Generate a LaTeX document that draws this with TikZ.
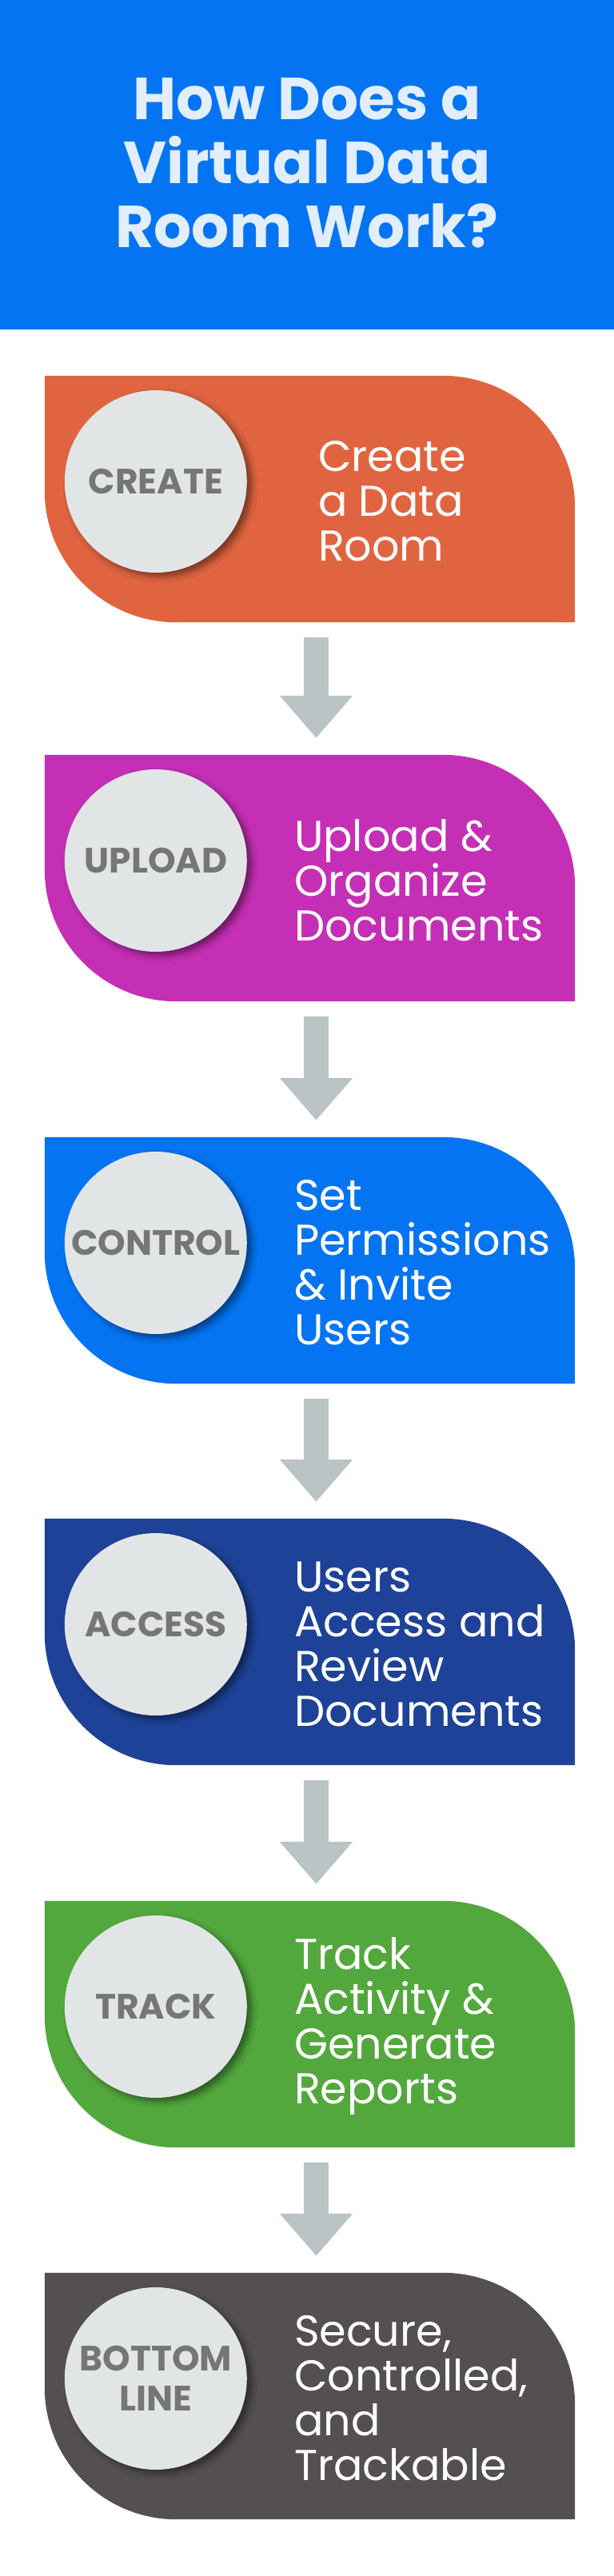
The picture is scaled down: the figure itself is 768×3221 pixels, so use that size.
\documentclass[tikz,border=0pt]{standalone}
\usepackage{fontspec}
\setmainfont{Poppins}
\usepackage{tikz}
\usetikzlibrary{positioning,calc}
\usetikzlibrary{arrows.meta,shadows.blur}
\definecolor{HeadBlue}{RGB}{4,116,242}
\definecolor{TitleInk}{RGB}{226,238,252}
\definecolor{CreateOrange}{RGB}{224,100,63}
\definecolor{UploadPink}{RGB}{196,47,181}
\definecolor{ControlBlue}{RGB}{4,116,242}
\definecolor{AccessNavy}{RGB}{30,66,151}
\definecolor{TrackGreen}{RGB}{83,168,61}
\definecolor{BottomGray}{RGB}{84,80,82}
\definecolor{ArrowGray}{RGB}{186,196,196}
\definecolor{BadgeGray}{RGB}{226,229,230}
\definecolor{LabelGray}{RGB}{118,118,118}
\tikzset{
	stepbox/.style={rectangle,minimum width=663pt,minimum height=308pt,inner sep=0pt},
	badge/.style={circle,fill=BadgeGray,minimum size=228pt,inner sep=0pt,align=center,
		text=LabelGray,font=\fontsize{44}{50}\selectfont\bfseries,
		blur shadow={shadow xshift=6pt,shadow yshift=-5pt,shadow blur radius=7pt,shadow opacity=45}},
	steptext/.style={anchor=west,inner sep=0pt,text=white,align=left,font=\fontsize{54}{56}\selectfont},
	flow/.style={draw=ArrowGray,line width=31pt,-{Triangle[length=53pt,width=88pt]},
		shorten <=19pt,shorten >=21pt},
	title/.style={anchor=north,inner sep=0pt,text=TitleInk,align=center,font=\fontsize{74}{80}\selectfont\bfseries},
}
\newcommand{\leafbox}[2]{%
	\fill[#2] (#1.north west) -- ($(#1.north east)+(-165,0)$)
		arc[start angle=90,end angle=0,radius=165pt] -- (#1.south east)
		-- ($(#1.south west)+(165,0)$) arc[start angle=270,end angle=180,radius=165pt] -- cycle;}
\begin{document}
\begin{tikzpicture}[x=1pt,y=1pt]
	\useasboundingbox (0,0) rectangle (768,-3221);
	\fill[HeadBlue] (0,0) rectangle (768,-412);
	\node[title] (ttl) at (384,-97) {How Does a\\Virtual Data\\Room Work?};

	\node[stepbox] (s1) at (387.5,-624) {};
	\node[stepbox] (s2) at (387.5,-1098) {};
	\node[stepbox] (s3) at (387.5,-1576) {};
	\node[stepbox] (s4) at (387.5,-2053) {};
	\node[stepbox] (s5) at (387.5,-2531) {};
	\node[stepbox] (s6) at (387.5,-2996) {};

	\leafbox{s1}{CreateOrange}
	\leafbox{s2}{UploadPink}
	\leafbox{s3}{ControlBlue}
	\leafbox{s4}{AccessNavy}
	\leafbox{s5}{TrackGreen}
	\leafbox{s6}{BottomGray}

	\node[badge] (c1) at ($(s1.west)+(139,22)$) {CREATE};
	\node[badge] (c2) at ($(s2.west)+(139,22)$) {UPLOAD};
	\node[badge] (c3) at ($(s3.west)+(139,22)$) {CONTROL};
	\node[badge] (c4) at ($(s4.west)+(139,22)$) {ACCESS};
	\node[badge] (c5) at ($(s5.west)+(139,22)$) {TRACK};
	\node[badge] (c6) at ($(s6.west)+(139,22)$) {BOTTOM\\LINE};

	\node[steptext] (t1) at ($(s1.west)+(342,-3)$) {Create\\a Data\\Room};
	\node[steptext] (t2) at ($(s2.west)+(312,-3)$) {Upload \&\\Organize\\Documents};
	\node[steptext] (t3) at ($(s3.west)+(312,-3)$) {Set\\Permissions\\\& Invite\\Users};
	\node[steptext] (t4) at ($(s4.west)+(312,-3)$) {Users\\Access and\\Review\\Documents};
	\node[steptext] (t5) at ($(s5.west)+(312,-3)$) {Track\\Activity \&\\Generate\\Reports};
	\node[steptext] (t6) at ($(s6.west)+(312,-3)$) {Secure,\\Controlled,\\and\\Trackable};

	\draw[flow] ([xshift=8pt]s1.south) -- ([xshift=8pt]s2.north);
	\draw[flow] ([xshift=8pt]s2.south) -- ([xshift=8pt]s3.north);
	\draw[flow] ([xshift=8pt]s3.south) -- ([xshift=8pt]s4.north);
	\draw[flow] ([xshift=8pt]s4.south) -- ([xshift=8pt]s5.north);
	\draw[flow] ([xshift=8pt]s5.south) -- ([xshift=8pt]s6.north);
\end{tikzpicture}
\end{document}
